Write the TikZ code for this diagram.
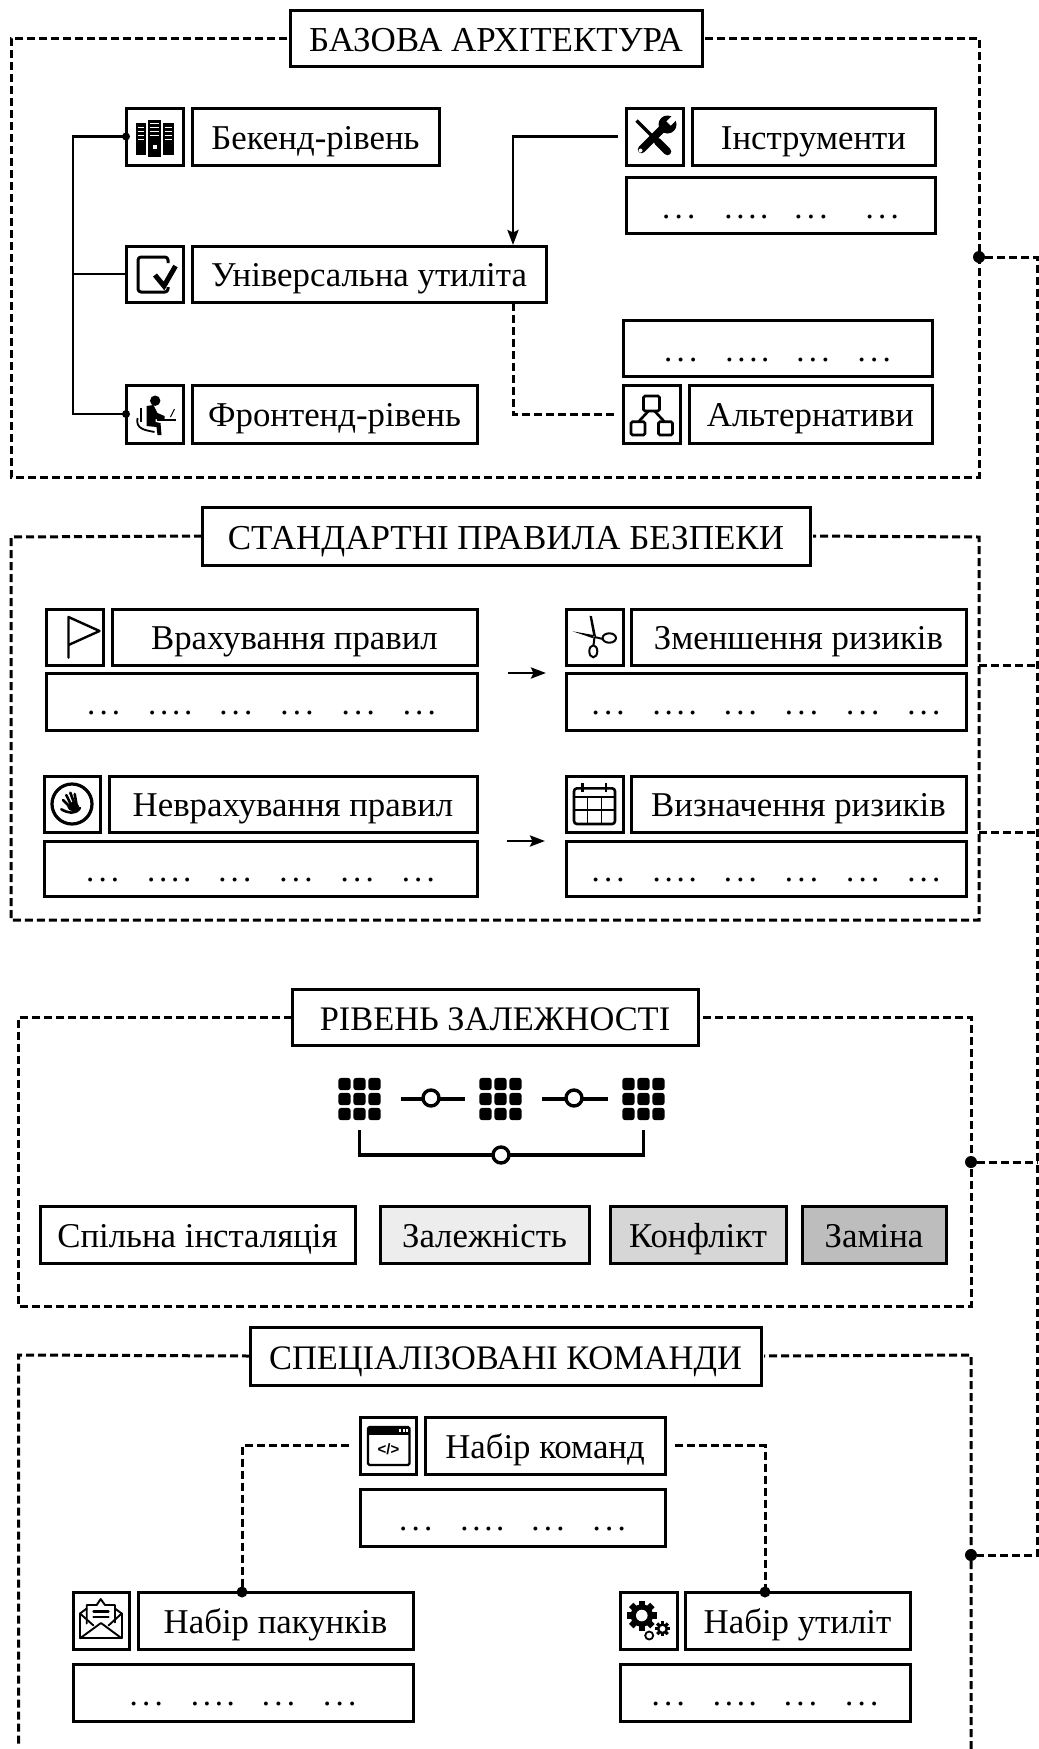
\documentclass[tikz,border=0pt]{standalone}
\usepackage{fontspec}
\setmainfont{Liberation Serif}
\newfontfamily\iconsans{Liberation Sans}
\usetikzlibrary{arrows.meta,calc}
\newcommand{\lblfont}{\fontsize{34.8}{36}\selectfont}
\newcommand{\ttlfont}{\fontsize{35}{38}\selectfont}
\newcommand{\ttlsmall}{\fontsize{34.4}{38}\selectfont}
\newcommand{\dotfont}{\fontsize{33}{36}\selectfont}
\newcommand{\ddd}{.\kern4.2pt.\kern4.2pt.}
\newcommand{\dddd}{.\kern3.7pt.\kern3.7pt.\kern3.7pt.}
\newcommand{\dotfour}{\ddd\hspace{28pt}\dddd\hspace{27pt}\ddd\hspace{28pt}\ddd}
\newcommand{\dotwide}{\ddd\hspace{29pt}\dddd\hspace{26pt}\ddd\hspace{38pt}\ddd}
\newcommand{\dotsix}{\ddd\hspace{28pt}\dddd\hspace{27pt}\ddd\hspace{28pt}\ddd\hspace{28pt}\ddd\hspace{28pt}\ddd}
\newcommand{\bx}[7]{%
  \pgfmathsetmacro{\bxw}{#4-#2}\pgfmathsetmacro{\bxh}{#5-#3}%
  \node[#6,minimum width=\bxw pt,minimum height=\bxh pt] (#1) at ({(#2+#4)/2},{(#3+#5)/2}) {#7};}
\tikzset{
  frame/.style={draw=black,line width=3pt,fill=white,inner sep=0pt,outer sep=0pt,text height=25pt,text depth=0pt,font=\lblfont},
  ttl/.style={frame,text height=27pt,font=\ttlfont},
  dotbox/.style={frame,text height=26pt,font=\dotfont},
  iconbox/.style={frame},
  dash line/.style={line width=3pt,dash pattern=on 8pt off 4pt},
  solid line/.style={line width=2.8pt},
  joint/.style={circle,fill=black,inner sep=0pt,outer sep=0pt,minimum size=#1},
  joint/.default=12pt,
  ring/.style={circle,draw=black,line width=3.4pt,fill=white,inner sep=0pt,minimum size=16pt},
  griddots/.style={inner sep=0pt,outer sep=0pt,minimum width=44pt,minimum height=44pt},
  tip/.style={-{Stealth[length=15pt,width=11pt,inset=2.5pt]}},
  ico/.style={line width=2.4pt,line cap=round,line join=round}
}
\newcommand{\gearfill}[4]{% x,y,radius,hole
  \foreach \a in {0,45,...,315}{\draw[line width=#3*0.42pt,line cap=butt] (#1,#2) ++(\a:#3*0.6) -- ++(\a:#3*0.4);}
  \fill (#1,#2) circle ({#3*0.75});
  \fill[white] (#1,#2) circle (#4);}
\newcommand{\gridicon}[1]{%
  \foreach \i in {-15,0,15}{\foreach \j in {-15,0,15}{
    \fill[rounded corners=3pt] ($(#1)+(\i-6.2,\j-6.2)$) rectangle ($(#1)+(\i+6.2,\j+6.2)$);}}}
\begin{document}
\begin{tikzpicture}[x=1pt,y=-1pt]
\useasboundingbox[fill=white] (0,0) rectangle (1039,1749);

% ---------- group 1
\coordinate (fa1) at (11,38);\coordinate (fa2) at (11,477);\coordinate (fa3) at (979,477);\coordinate (fa4) at (979,38);
\bx{t1}{290}{10}{702}{66}{ttl}{БАЗОВА АРХІТЕКТУРА}
\draw[dash line,shorten <=3pt] (t1.west) -- (fa1) -- (fa2) -- (fa3) -- (fa4) -- (t1.east);

\bx{ib}{126}{108}{183}{165}{iconbox}{}
\bx{lb}{192}{108}{439}{165}{frame}{Бекенд-рівень}
\bx{iu}{126}{246}{183}{302}{iconbox}{}
\bx{lu}{192}{246}{546}{302}{frame}{Універсальна утиліта}
\bx{if}{126}{385}{183}{443}{iconbox}{}
\bx{lf}{192}{385}{477}{443}{frame}{Фронтенд-рівень}
\bx{it}{626}{108}{683}{165}{iconbox}{}
\bx{lt}{692}{108}{935}{165}{frame}{Інструменти}
\bx{dt}{626}{177}{935}{233}{dotbox}{\dotwide}
\bx{da}{623}{320}{932}{376}{dotbox}{\dotfour}
\bx{ia}{623}{385}{680}{443}{iconbox}{}
\bx{la}{689}{385}{932}{443}{frame}{Альтернативи}

\coordinate (trunk) at (73,274);
\draw[solid line] (ib.west) -| (trunk) |- (if.west);
\draw[solid line] (trunk) -- (iu.west);
\node[joint=8pt] (jb) at (ib.west) {};
\node[joint=8pt] (jf) at (if.west) {};
\coordinate (uin) at (513,245);\coordinate (uout) at (513,303);
\draw[solid line,tip,shorten <=8pt] (it.west) -| (uin);
\draw[dash line,shorten >=6pt] (uout) |- (ia.west);

% ---------- group 2
\coordinate (fb1) at (11,537);\coordinate (fb2) at (11,920);\coordinate (fb3) at (979,920);\coordinate (fb4) at (979,537);
\bx{t2}{202}{507}{810}{565}{ttl}{СТАНДАРТНІ ПРАВИЛА БЕЗПЕКИ}
\draw[dash line,shorten >=3pt] (t2.west) -- (fb1) -- (fb2) -- (fb3) -- (fb4) -- (t2.east);

\bx{ivr}{46}{609}{103}{665}{iconbox}{}
\bx{lvr}{112}{609}{477}{665}{frame}{Врахування правил}
\bx{dvr}{46}{673}{477}{730}{dotbox}{\dotsix}
\bx{inv}{44}{776}{100}{832}{iconbox}{}
\bx{lnv}{109}{776}{477}{832}{frame}{Неврахування правил}
\bx{dnv}{44}{841}{477}{896}{dotbox}{\dotsix}
\bx{izm}{566}{609}{623}{665}{iconbox}{}
\bx{lzm}{631}{609}{966}{665}{frame}{Зменшення ризиків}
\bx{dzm}{566}{673}{966}{730}{dotbox}{\dotsix}
\bx{ivz}{566}{776}{623}{832}{iconbox}{}
\bx{lvz}{631}{776}{966}{832}{frame}{Визначення ризиків}
\bx{dvz}{566}{841}{966}{896}{dotbox}{\dotsix}
\draw[solid line,tip,shorten <=31pt,shorten >=20pt] (dvr.north east) -- (dzm.north west);
\draw[solid line,tip,shorten <=30pt,shorten >=21pt] (dnv.north east) -- (dvz.north west);

% ---------- group 3
\coordinate (fc1) at (18.5,1017);\coordinate (fc2) at (18.5,1306);\coordinate (fc3) at (971,1306);\coordinate (fc4) at (971,1017);
\bx{t3}{292}{989}{698}{1045}{ttl,font=\ttlsmall}{РІВЕНЬ ЗАЛЕЖНОСТІ}
\draw[dash line,shorten >=3pt] (t3.west) -- (fc1) -- (fc2) -- (fc3) -- (fc4) -- (t3.east);

\node[griddots] (g1) at (359.5,1099) {};
\node[griddots] (g2) at (500.5,1099) {};
\node[griddots] (g3) at (643.5,1099) {};
\gridicon{g1}\gridicon{g2}\gridicon{g3}
\draw[line width=3.4pt,shorten <=19pt,shorten >=14pt] (g1.east) -- (g2.west);
\draw[line width=3.4pt,shorten <=19pt,shorten >=14pt] (g2.east) -- (g3.west);
\node[ring] (r1) at (431,1098) {};
\node[ring] (r2) at (574,1098) {};
\coordinate (brk) at (501,1155);
\draw[line width=3.2pt,shorten <=9pt,shorten >=9pt] (g1.south) |- (brk) -| (g3.south);
\node[ring] (r3) at (brk) {};

\bx{s1}{40}{1206}{355}{1263}{frame}{Спільна інсталяція}
\bx{s2}{380}{1206}{589}{1263}{frame,fill=black!7}{Залежність}
\bx{s3}{610}{1206}{786}{1263}{frame,fill=black!16}{Конфлікт}
\bx{s4}{802}{1206}{946}{1263}{frame,fill=black!26}{Заміна}

% ---------- group 4
\coordinate (fd1) at (18.5,1355);\coordinate (fd2) at (18.5,1749);\coordinate (fd3) at (971,1749);\coordinate (fd4) at (971,1355);
\bx{t4}{250}{1327}{761}{1385}{ttl,font=\ttlsmall}{СПЕЦІАЛІЗОВАНІ КОМАНДИ}
\draw[dash line,shorten >=3pt] (t4.west) -- (fd1) -- (fd2);
\draw[dash line,shorten >=3pt] (fd3) -- (fd4) -- (t4.east);

\bx{ik}{360}{1417}{416}{1474}{iconbox}{}
\bx{lk}{425}{1417}{665}{1474}{frame}{Набір команд}
\bx{dk}{360}{1489}{665}{1546}{dotbox}{\dotfour}
\bx{ip}{73}{1592}{129}{1649}{iconbox}{}
\bx{lp}{138}{1592}{413}{1649}{frame}{Набір пакунків}
\bx{dp}{73}{1664}{413}{1721}{dotbox}{\dotfour}
\bx{iy}{620}{1592}{677}{1649}{iconbox}{}
\bx{ly}{685}{1592}{910}{1649}{frame}{Набір утиліт}
\bx{dy}{620}{1664}{910}{1721}{dotbox}{\dotfour}

\node[joint=11pt] (jp) at (242,1592) {};
\node[joint=11pt] (jy) at (765,1592) {};
\draw[dash line,shorten <=11pt] (ik.west) -| (jp);
\draw[dash line,shorten <=10pt] (lk.east) -| (jy);

% ---------- outer collector
\node[joint] (j1) at (979,257) {};
\node[joint=0pt] (j2) at (979,665) {};
\node[joint=0pt] (j3) at (979,832) {};
\node[joint] (j4) at (971,1162) {};
\node[joint] (j5) at (971,1555) {};
\coordinate (busa) at (1037.5,257);\coordinate (busb) at (1037.5,1555);
\draw[dash line] (j1) -- (busa) -- (busb) -- (j5);
\draw[dash line] (j2) -- (j2 -| busa);
\draw[dash line] (j3) -- (j3 -| busa);
\draw[dash line] (j4) -- (j4 -| busa);

% ---------- icons
% servers
\begin{scope}[shift={(ib.center)}]
  \fill (-19,-13.5) rectangle (-8.5,18);
  \fill (-6.5,-17) rectangle (6,20);
  \fill (8,-13.5) rectangle (19,18);
  \foreach \y in {-9,-5,-1,3}{\draw[white,line width=1.3pt] (-17,\y) -- (-10.5,\y);\draw[white,line width=1.3pt] (10,\y) -- (17,\y);}
  \foreach \y in {-13,-9,-5,-1}{\draw[white,line width=1.3pt] (-4.5,\y) -- (4,\y);}
  \fill[white] (-2,8) rectangle (2,12);
\end{scope}
% check
\begin{scope}[shift={(iu.center)}]
  \draw[line width=3pt,line join=round,rounded corners=3pt] (13.5,-11) -- (13.5,-17) -- (-16.5,-17) -- (-16.5,18) -- (13.5,18) -- (13.5,13);
  \draw[line width=5pt] (0.5,1) -- (9.5,12) -- (21,-8);
\end{scope}
% person
\begin{scope}[shift={(if.center)}]
  \fill (0.7,-13.3) circle (5.2);
  \fill[line join=round] (-8,-8) -- (-1,-9) -- (3,-1) -- (10,2) -- (10,5) -- (1,5) -- (1,8) -- (6,9) -- (7,21) -- (3,21) -- (2,13) -- (-8,12) -- cycle;
  \draw[line width=2.8pt] (-13.5,-6) -- (-13.5,8);
  \draw[line width=1.8pt] (-17,4) .. controls (-19,15) and (-10,16) .. (0,18);
  \draw[line width=1.8pt] (2,6) -- (21,6);
  \draw[line width=1.1pt] (16,3) -- (20,-5);
\end{scope}
% tools
\begin{scope}[shift={(it.center)}]
  \draw[line width=7.5pt,line cap=round] (10,-10) -- (-13,13);
  \fill (13,-12) circle (9);
  \draw[white,line width=6pt] (14,-13) -- (24,-23);
  \fill[white] (-14,14) circle (2);
  \draw[line width=3.4pt] (-18,-16) -- (4,6);
  \draw[line width=7.5pt,line cap=round] (3,5) -- (13,15);
\end{scope}
% hierarchy
\begin{scope}[shift={(ia.center)}]
  \draw[line width=2.6pt,rounded corners=1.5pt] (-8,-18) rectangle (8,-3);
  \draw[line width=2.6pt,rounded corners=1.5pt] (-20.5,7.7) rectangle (-6.5,21);
  \draw[line width=2.6pt,rounded corners=1.5pt] (7,7.7) rectangle (21,21);
  \draw[line width=2.6pt] (-3,-3) -- (-13,7.7);
  \draw[line width=2.6pt] (3,-3) -- (13,7.7);
\end{scope}
% flag
\begin{scope}[shift={(ivr.center)}]
  \draw[ico] (-6,20.7) -- (-6,-20) -- (25,-6) -- (-6,8);
\end{scope}
% hand
\begin{scope}[shift={(inv.center)}]
  \draw[line width=3.2pt] (0,0) circle (20);
  \draw[line width=2.6pt,line cap=round] (-9,-4) -- (-4,1);
  \draw[line width=2.6pt,line cap=round] (-5.7,-9) -- (-1.7,-0.7);
  \draw[line width=2.6pt,line cap=round] (-1.7,-11.3) -- (1.7,-2.3);
  \draw[line width=2.6pt,line cap=round] (2.7,-10) -- (4.3,-0.7);
  \fill (1.2,2.5) ellipse (6 and 4.5);
  \draw[line width=2.6pt,line cap=round] (-10.7,5.3) .. controls (-4,9) and (3,11) .. (8,4);
\end{scope}
% scissors
\begin{scope}[shift={(izm.center)}]
  \fill (-5,-21.3) -- (-2.5,-20.7) -- (1.5,-0.7) -- (-1.2,-0.7) -- cycle;
  \fill (-21.8,-5.7) -- (-1.2,-2) -- (-1.2,1.3) -- cycle;
  \draw[line width=2pt] (14.8,1) ellipse (6.7 and 4.7);
  \draw[line width=2pt] (0,0) -- (8.5,2);
  \draw[line width=2pt] (-1.2,14.3) ellipse (4 and 6);
  \draw[line width=2pt] (0,0) -- (-1,8.5);
\end{scope}
% calendar
\begin{scope}[shift={(ivz.center)}]
  \draw[line width=2.6pt,rounded corners=3pt] (-20.5,-15.7) rectangle (20.5,20);
  \draw[line width=2pt] (-20.5,-7) -- (20.5,-7);
  \draw[line width=1.7pt] (-20.5,6) -- (20.5,6);
  \draw[line width=1.7pt] (-7,-7) -- (-7,20);
  \draw[line width=1.7pt] (7,-7) -- (7,20);
  \draw[line width=2.4pt] (-12,-21) -- (-12,-12);
  \draw[line width=2.4pt] (11.5,-21) -- (11.5,-12);
\end{scope}
% code window
\begin{scope}[shift={(ik.center)}]
  \draw[line width=2.4pt,rounded corners=1.5pt] (-20,-18.5) rectangle (21.5,19.5);
  \fill (-20,-18.5) rectangle (21.5,-11);
  \foreach \x in {11,14.5,18}{\fill[white] (\x,-16.5) rectangle (\x+2,-13.5);}
  \node[inner sep=0pt,font=\iconsans\bfseries\fontsize{15}{15}\selectfont] (codetag) at (0.5,4) {</>};
\end{scope}
% envelope
\begin{scope}[shift={(ip.center)},line width=1.9pt,line join=round,line cap=round]
  \draw (-14.3,3) -- (-14.3,-15.5) -- (-4.3,-15.5) -- (-0.3,-21.5) -- (4,-15.5) -- (14,-15.5) -- (14,2);
  \draw (-21,-7) -- (-21,17.8) -- (20.7,17.8) -- (20.7,-7);
  \draw (-21,-7) -- (-14.3,-12);
  \draw (20.7,-7) -- (14,-12);
  \draw (-21,17.8) -- (0,2.5) -- (20.7,17.8);
  \draw (-21,-7) -- (-7.5,5);
  \draw (20.7,-7) -- (7.5,5);
  \draw[line width=2.4pt] (-7.5,-9) -- (7.5,-9);
  \draw[line width=2.4pt] (-7.5,-3.5) -- (7.5,-3.5);
\end{scope}
% gears
\begin{scope}[shift={(iy.center)}]
  \gearfill{-6.7}{-5}{15}{5.8}
  \gearfill{14}{8.3}{7.5}{2.8}
  \draw[line width=1.8pt] (0.7,15) circle (4);
\end{scope}
\end{tikzpicture}
\end{document}
